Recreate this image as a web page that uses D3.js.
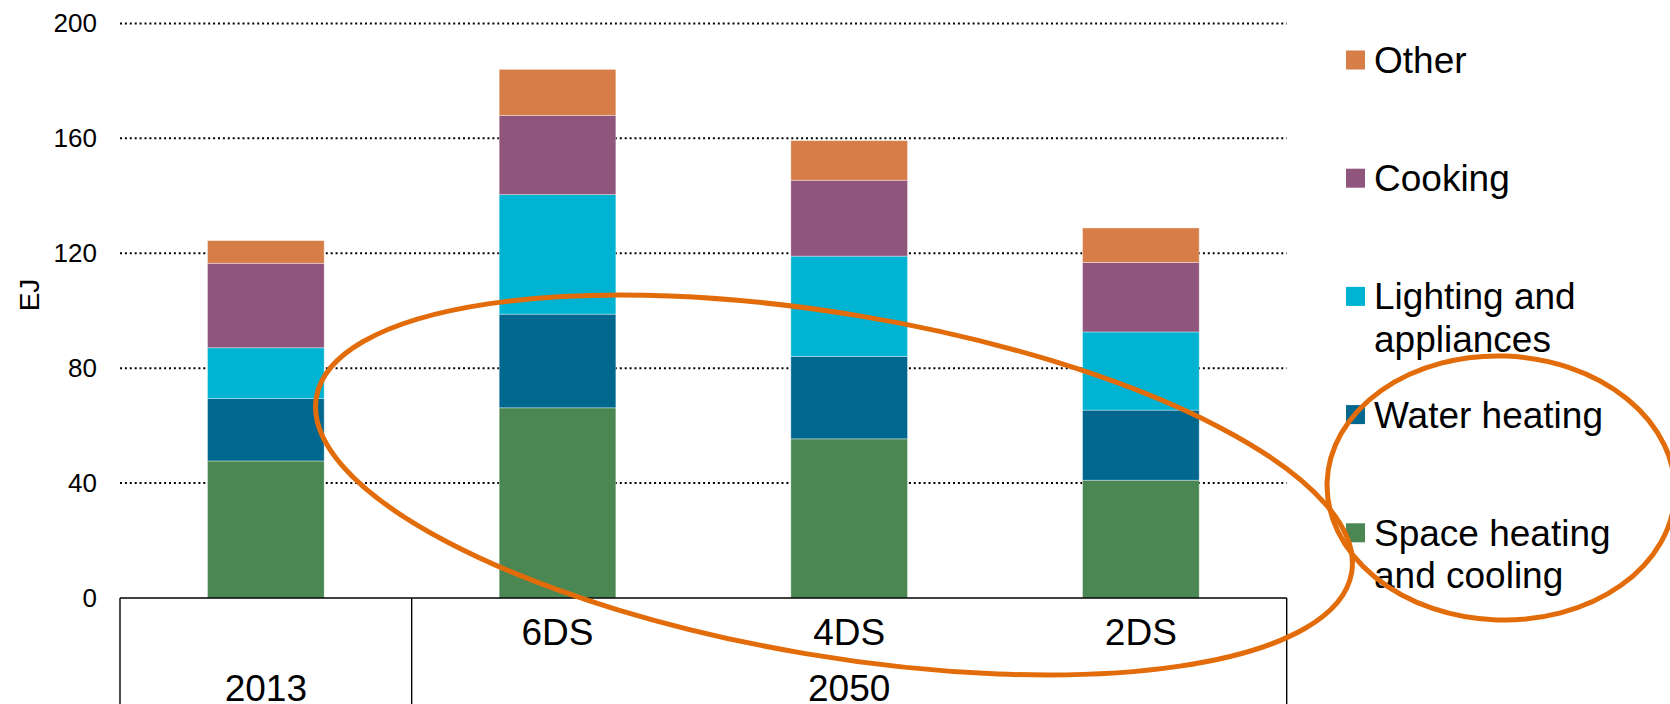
<!DOCTYPE html>
<html>
<head>
<meta charset="utf-8">
<script src="https://cdn.jsdelivr.net/npm/d3@7"></script>
<style>
  html, body { margin: 0; padding: 0; background: #fff; }
  svg { display: block; font-family: "Liberation Sans", Arial, sans-serif; }
</style>
</head>
<body>
<svg id="chart" width="1670" height="704"></svg>
<script>
// Residential energy demand by end use (EJ)
const categories = ["2013", "6DS", "4DS", "2DS"];
const groups = [
  { label: "2013", members: ["2013"] },
  { label: "2050", members: ["6DS", "4DS", "2DS"] }
];
const scenarioLabels = ["", "6DS", "4DS", "2DS"];

const spaceHeating = [47.7, 66.2, 55.4, 41.0];
const waterHeating = [21.7, 32.6, 28.7, 24.4];
const lighting     = [17.7, 41.6, 34.9, 27.2];
const cooking      = [29.4, 27.6, 26.4, 24.2];
const other        = [7.9, 16.0, 13.8, 12.0];

const seriesNames = ["Space heating and cooling", "Water heating", "Lighting and appliances", "Cooking", "Other"];
const legendLines = [["Space heating", "and cooling"], ["Water heating"], ["Lighting and", "appliances"], ["Cooking"], ["Other"]];
const seriesColors = ["#4A8752", "#00688F", "#00B3D3", "#90557C", "#D77E48"];
const yTicks = [0, 40, 80, 120, 160, 200];

const svg = d3.select("#chart");

const plot = { left: 120, right: 1286.7, top: 23.4, bottom: 598 };

const x = d3.scaleBand()
  .domain(categories)
  .range([plot.left, plot.right])
  .paddingInner(0.6)
  .paddingOuter(0.3);

const y = d3.scaleLinear().domain([0, 200]).range([plot.bottom, plot.top]);

// table for stacking
const table = categories.map((c, i) => ({
  cat: c,
  [seriesNames[0]]: spaceHeating[i],
  [seriesNames[1]]: waterHeating[i],
  [seriesNames[2]]: lighting[i],
  [seriesNames[3]]: cooking[i],
  [seriesNames[4]]: other[i]
}));
const stacked = d3.stack().keys(seriesNames)(table);
const color = d3.scaleOrdinal().domain(seriesNames).range(seriesColors);

// dotted gridlines
svg.append("g")
  .selectAll("line")
  .data(yTicks.filter(t => t > 0))
  .join("line")
  .attr("x1", plot.left)
  .attr("x2", plot.right)
  .attr("y1", d => y(d))
  .attr("y2", d => y(d))
  .attr("stroke", "#000")
  .attr("stroke-width", 2)
  .attr("stroke-dasharray", "2,2.9");

// y axis labels
const yAxis = d3.axisLeft(y).tickValues(yTicks).tickSize(0).tickPadding(23);
const yg = svg.append("g").attr("transform", `translate(${plot.left},0)`).call(yAxis);
yg.select(".domain").remove();
yg.selectAll("text")
  .attr("font-size", 26)
  .attr("fill", "#000")
  .attr("font-family", "Liberation Sans, Arial, sans-serif");

// y axis title
svg.append("text")
  .attr("transform", "translate(38.5,295) rotate(-90)")
  .attr("text-anchor", "middle")
  .attr("font-size", 28)
  .attr("fill", "#000")
  .text("EJ");

// stacked bars
svg.append("g")
  .selectAll("g")
  .data(stacked)
  .join("g")
  .attr("fill", d => color(d.key))
  .selectAll("rect")
  .data(d => d)
  .join("rect")
  .attr("x", d => x(d.data.cat))
  .attr("width", x.bandwidth())
  .attr("y", d => y(d[1]))
  .attr("height", d => y(d[0]) - y(d[1]))
  .attr("stroke", "rgba(255,255,255,0.45)")
  .attr("stroke-width", 0.8);

// category axis: baseline and group boxes
const step = x.step();
const axisG = svg.append("g").attr("stroke", "#000").attr("stroke-width", 1.4).attr("fill", "none");
axisG.append("line")
  .attr("x1", plot.left).attr("x2", plot.right)
  .attr("y1", plot.bottom).attr("y2", plot.bottom);
let acc = 0;
const boundaries = [0];
groups.forEach(g => { acc += g.members.length; boundaries.push(acc); });
axisG.selectAll("line.div")
  .data(boundaries)
  .join("line")
  .attr("class", "div")
  .attr("x1", d => plot.left + d * step)
  .attr("x2", d => plot.left + d * step)
  .attr("y1", plot.bottom)
  .attr("y2", 704);

// scenario labels
svg.append("g")
  .selectAll("text")
  .data(categories.map((c, i) => ({ c, label: scenarioLabels[i] })))
  .join("text")
  .attr("x", d => x(d.c) + x.bandwidth() / 2)
  .attr("y", 645)
  .attr("text-anchor", "middle")
  .attr("font-size", 37)
  .attr("fill", "#000")
  .text(d => d.label);

// group labels
svg.append("g")
  .selectAll("text")
  .data(groups.map((g, i) => ({ g, start: boundaries[i], end: boundaries[i + 1] })))
  .join("text")
  .attr("x", d => plot.left + (d.start + d.end) / 2 * step)
  .attr("y", 701)
  .attr("text-anchor", "middle")
  .attr("font-size", 37)
  .attr("fill", "#000")
  .text(d => d.g.label);

// legend (top item = last series)
const legendOrder = seriesNames.map((n, i) => i).reverse();
const legend = svg.append("g");
const lg = legend.selectAll("g")
  .data(legendOrder)
  .join("g")
  .attr("transform", (d, k) => `translate(1346,${73 + k * 118.2})`);
lg.append("rect")
  .attr("x", 0).attr("y", -22.5)
  .attr("width", 19).attr("height", 19)
  .attr("fill", d => seriesColors[d]);
lg.append("text")
  .attr("x", 28)
  .attr("font-size", 37)
  .attr("fill", "#000")
  .selectAll("tspan")
  .data(d => legendLines[d])
  .join("tspan")
  .attr("x", 28)
  .attr("dy", (d, i) => i === 0 ? 0 : 42.5)
  .text(d => d);

// highlight ellipses
const ann = svg.append("g").attr("fill", "none").attr("stroke", "#E36C0A").attr("stroke-width", 5);
ann.append("ellipse")
  .attr("cx", 834).attr("cy", 485).attr("rx", 525).attr("ry", 171)
  .attr("transform", "rotate(9.6 834 485)");
ann.append("ellipse")
  .attr("cx", 1501).attr("cy", 488).attr("rx", 174).attr("ry", 132)
  .attr("transform", "rotate(2 1501 488)");
</script>
</body>
</html>
